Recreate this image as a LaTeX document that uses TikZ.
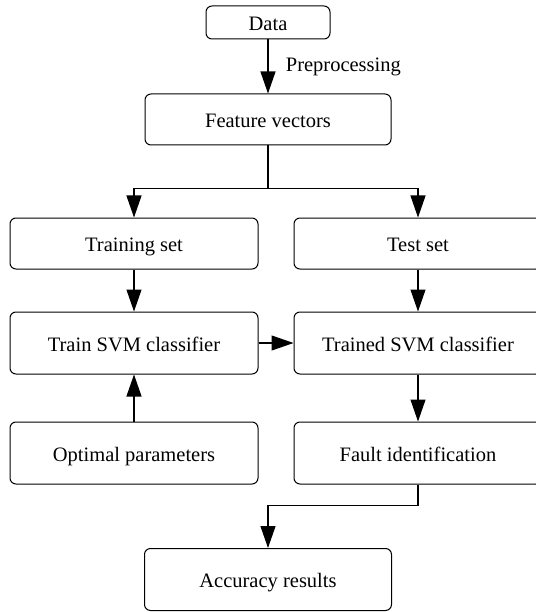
\documentclass[tikz,border=0pt]{standalone}
\usepackage{fontspec}
\setmainfont{Liberation Serif}
\usetikzlibrary{arrows.meta, positioning}
\tikzset{box/.style={rectangle,draw,rounded corners=6pt,align=center,inner sep=3pt,line width=1pt,minimum width=248pt,minimum height=51pt,text height=19pt,text depth=3pt,font=\fontsize{20.5}{24}\selectfont},tallbox/.style={box,minimum height=62pt},line/.style={-{Triangle[length=22pt,width=15pt]},line width=1.1pt}}

\begin{document}
\begin{tikzpicture}[node distance=42pt and 35pt]
\useasboundingbox (0,0) rectangle (535pt,-612pt);
\node[box, minimum width=124pt, minimum height=33pt] (data) at (268pt,-22.5pt) {Data};
\node[box, below=54pt of data, minimum width=246pt] (feat) {Feature vectors};
\node[box] (trainset) at (134pt,-243.5pt) {Training set};
\node[box, right=of trainset] (testset) {Test set};
\node[tallbox, below=of trainset] (svm) {Train SVM classifier};
\node[tallbox, right=of svm] (trained) {Trained SVM classifier};
\node[tallbox, below=47pt of svm] (optpar) {Optimal parameters};
\node[tallbox, right=of optpar] (fault) {Fault identification};
\node[tallbox, minimum width=247pt] (acc) at (268pt,-579.5pt) {Accuracy results};
\draw[line] (data) -- node[right, xshift=14pt, font=\fontsize{20.5}{24}\selectfont]{Preprocessing} (feat);
\draw[line] (feat.south) -- ++(0,-43pt) -| (trainset.north);
\draw[line] (feat.south) -- ++(0,-43pt) -| (testset.north);
\draw[line] (trainset) -- (svm);
\draw[line] (testset) -- (trained);
\draw[line] (svm) -- (trained);
\draw[line] (optpar) -- (svm);
\draw[line] (trained) -- (fault);
\draw[line] (fault.south) -- ++(0,-21pt) -| (acc.north);
\end{tikzpicture}
\end{document}
